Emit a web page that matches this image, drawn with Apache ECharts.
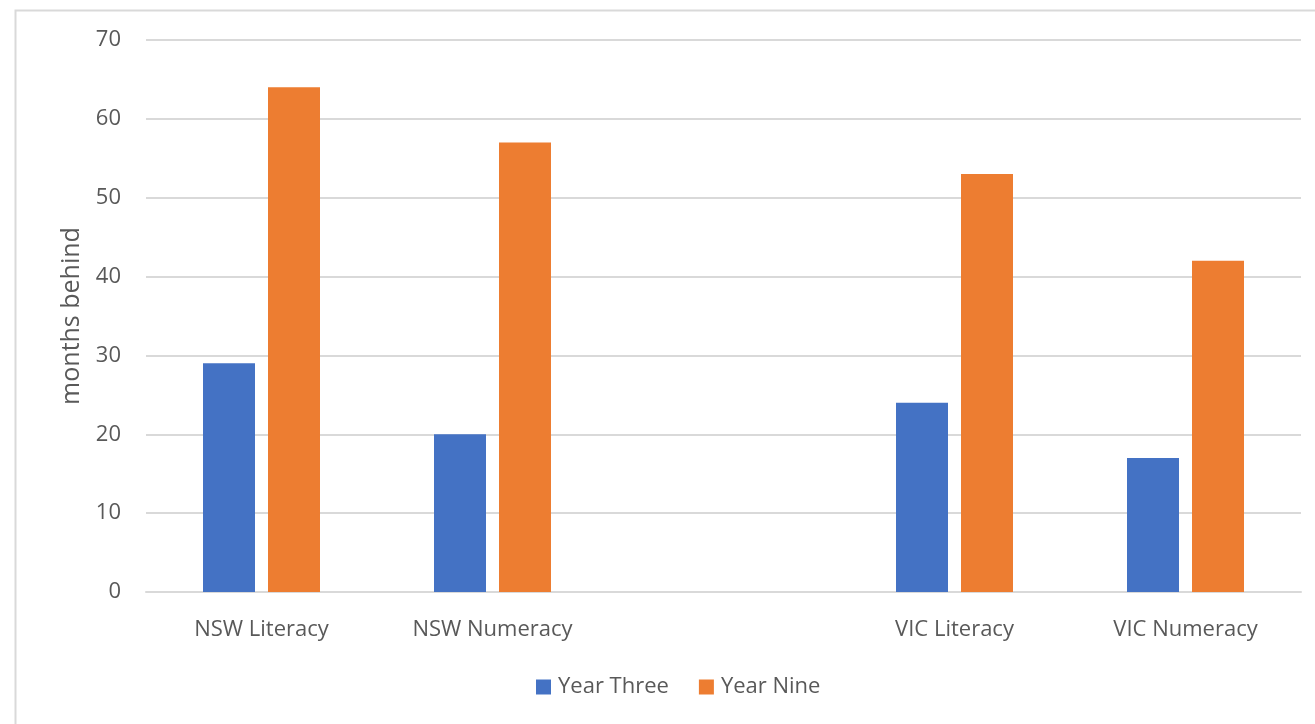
<!DOCTYPE html>
<html>
<head>
<meta charset="utf-8">
<title>Months behind</title>
<script src="https://cdn.jsdelivr.net/npm/echarts@6/dist/echarts.min.js"></script>
<style>
  html, body { margin: 0; padding: 0; background: #fff; }
  #chart { width: 1315px; height: 724px; }
</style>
</head>
<body>
<div id="chart"></div>
<script>
// Categories (the blank entry leaves a gap between the two states)
const categories = ['NSW Literacy', 'NSW Numeracy', '', 'VIC Literacy', 'VIC Numeracy'];
const yearThree = [29, 20, null, 24, 17];
const yearNine = [64, 57, null, 53, 42];
const yTicks = { min: 0, max: 70, interval: 10 };

const textColor = '#595959';
const gridColor = '#d9d9d9';
const fontFamily = '"Open Sans", Lato, "Liberation Sans", sans-serif';

const chart = echarts.init(document.getElementById('chart'), null, { renderer: 'canvas' });
chart.setOption({
  backgroundColor: '#ffffff',
  animation: false,
  textStyle: { fontFamily: fontFamily, color: textColor },
  graphic: [{
    type: 'rect',
    left: 13, top: 8,
    shape: { width: 1330, height: 740 },
    style: { fill: 'none', stroke: gridColor, lineWidth: 2 },
    silent: true
  }],
  grid: { left: 146, right: 14, top: 40, bottom: 132, containLabel: false },
  legend: {
    data: ['Year Three', 'Year Nine'],
    top: 671,
    left: 531,
    itemWidth: 15,
    itemHeight: 15,
    itemGap: 30,
    icon: 'rect',
    textStyle: { fontSize: 22, color: textColor, fontFamily: fontFamily, padding: [0, 0, 0, 2] }
  },
  xAxis: {
    type: 'category',
    data: categories,
    axisTick: { show: false },
    axisLine: { show: true, lineStyle: { color: gridColor, width: 2 } },
    axisLabel: { color: textColor, fontSize: 22, margin: 27, fontFamily: fontFamily }
  },
  yAxis: {
    type: 'value',
    min: yTicks.min,
    max: yTicks.max,
    interval: yTicks.interval,
    name: 'months behind',
    nameLocation: 'middle',
    nameGap: 62,
    nameRotate: 90,
    nameTextStyle: { color: textColor, fontSize: 25, fontFamily: fontFamily },
    axisLine: { show: false },
    axisTick: { show: false },
    axisLabel: { color: textColor, fontSize: 22, margin: 25, fontFamily: fontFamily },
    splitLine: { lineStyle: { color: gridColor, width: 2 } }
  },
  series: [
    {
      name: 'Year Three',
      type: 'bar',
      data: yearThree,
      barWidth: 52,
      barGap: '25%',
      itemStyle: { color: '#4472c4' }
    },
    {
      name: 'Year Nine',
      type: 'bar',
      data: yearNine,
      barWidth: 52,
      itemStyle: { color: '#ed7d31' }
    }
  ]
});
</script>
</body>
</html>
